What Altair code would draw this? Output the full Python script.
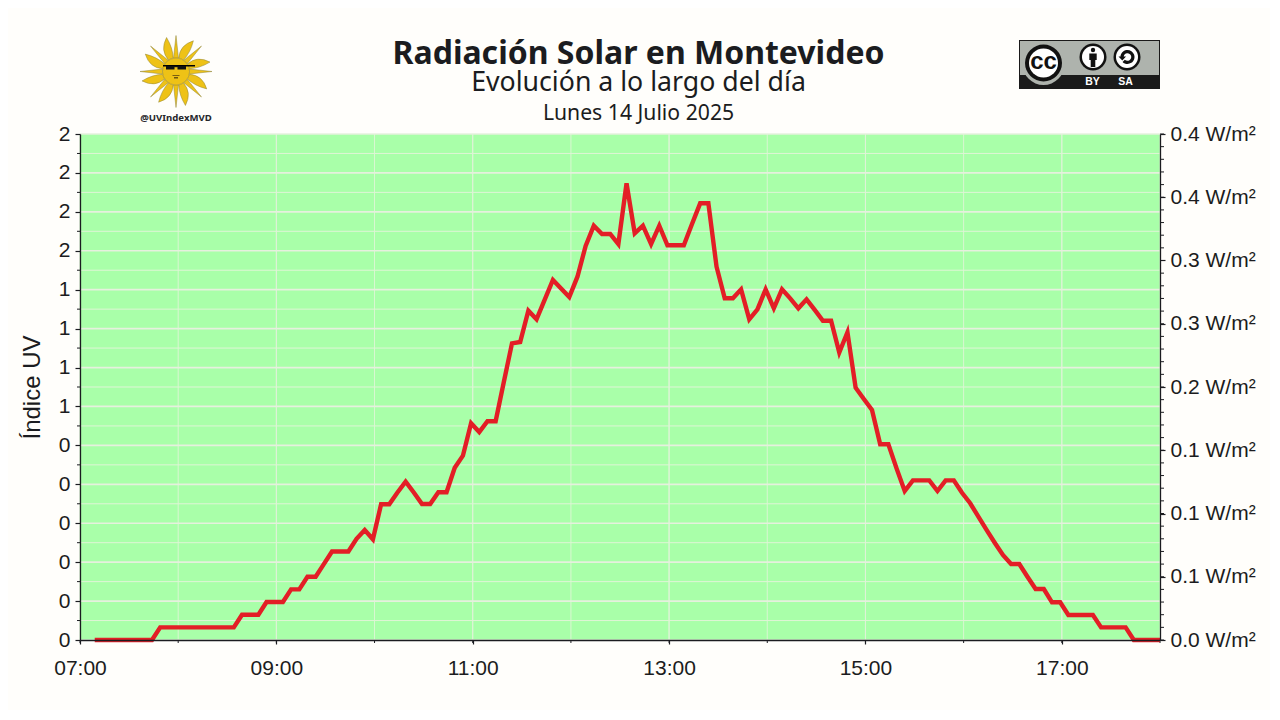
import math
import altair as alt
import pandas as pd

# ---- data -------------------------------------------------------------
minutes_after_seven = [9 + 5 * i for i in range(131)] + [660]
irradiance = [0]*8 + [0.010]*10 + [0.020]*3 + [0.030]*3 + [0.040]*2 + [0.050]*2 + [0.060] + [0.070]*3 + [
    0.080, 0.087, 0.0796, 0.1073, 0.1073, 0.1166, 0.1251, 0.1166, 0.1075, 0.1075, 0.1168, 0.1168,
    0.1362, 0.1457, 0.1713, 0.1644, 0.1729, 0.1729, 0.2040, 0.2345, 0.2356, 0.2603, 0.2535, 0.2691,
    0.2846, 0.2778, 0.2711, 0.2872, 0.3115, 0.3275, 0.3210, 0.3210, 0.3130, 0.3610, 0.3215, 0.3275,
    0.3130, 0.3275, 0.3120, 0.3120, 0.3120, 0.3289, 0.3452, 0.3452, 0.2951, 0.2701, 0.2701, 0.2772,
    0.2535, 0.2614, 0.2772, 0.2622, 0.2772, 0.2701, 0.2622, 0.2693, 0.2609, 0.2524, 0.2524, 0.2273,
    0.2433, 0.1994, 0.1905, 0.1818, 0.1547, 0.1547, 0.1357, 0.1178, 0.1262, 0.1262, 0.1262, 0.1178,
    0.1262, 0.1262, 0.1164, 0.1081, 0.0975, 0.0870, 0.0769, 0.0672, 0.0601, 0.0601, 0.0500, 0.0403,
    0.0403, 0.0298, 0.0298, 0.0198, 0.0198, 0.0198, 0.0198, 0.0100, 0.0100, 0.0100, 0.0100,
] + [0]*5
hours_major = [7, 9, 11, 13, 15, 17]
hours_all = list(range(7, 19))
uv_major = [i / 10 for i in range(14)]
uv_labels = ["0", "0", "0", "0", "0", "0", "1", "1", "1", "1", "2", "2", "2", "2"]
uv_minor = [i / 10 + 0.05 for i in range(13)]
w_major = [i * 0.05 for i in range(9)]
w_labels = ["0.0 W/m²", "0.1 W/m²", "0.1 W/m²", "0.1 W/m²", "0.2 W/m²",
            "0.3 W/m²", "0.3 W/m²", "0.4 W/m²", "0.4 W/m²"]
w_minor = [i * 0.01 for i in range(41)]

PAGE_BG = "#fffefb"
GREEN = "#a9ffa9"
INK = "#1b1c20"
W, H = 1080, 506
OX, OY = 80, 134  # page position of the plot origin


def X(px):
    return alt.value(px - OX)


def Y(py):
    return alt.value(py - OY)


hour_scale = alt.Scale(domain=[7, 18], nice=False, zero=False)
hour_enc = alt.X("h:Q", scale=hour_scale, axis=None)
uv_scale = alt.Scale(domain=[0, 1.3], nice=False, zero=True)
w_scale = alt.Scale(domain=[0, 0.4], nice=False, zero=True)
one = pd.DataFrame({"a": [0]})

left_axis = alt.Axis(
    values=uv_major,
    labelExpr=f"{uv_labels}[round(datum.value*10)]",
    orient="left", title="Índice UV", titleFont="Liberation Sans", titleFontSize=24,
    titleFontWeight="normal", titleColor=INK, titlePadding=14,
    grid=False, tickSize=5, labelPadding=5, zindex=1,
)
right_axis = alt.Axis(
    values=w_major,
    labelExpr=f"{w_labels}[round(datum.value/0.05)]",
    orient="right", title=None,
    grid=False, tickSize=5, labelPadding=5, zindex=1,
)
x_axis = alt.Axis(
    values=hours_major,
    labelExpr="(datum.value<10?'0':'')+datum.value+':00'",
    orient="bottom", title=None, grid=False, tickSize=4, labelPadding=13,
    labelFlush=False, labelBound=False, labelOverlap=False, zindex=1,
)

# ---- grid, ticks, line -------------------------------------------------
df_h_major = pd.DataFrame({"uv": uv_major})
df_h_minor = pd.DataFrame({"uv": uv_minor})
grid_major_y = alt.Chart(df_h_major).mark_rule(color="#e6f0de", strokeWidth=1.7).encode(
    y=alt.Y("uv:Q", scale=uv_scale, axis=left_axis))
grid_minor_y = alt.Chart(df_h_minor).mark_rule(color="#dff5d6", strokeWidth=1).encode(
    y=alt.Y("uv:Q", scale=uv_scale, axis=None))
grid_major_x = alt.Chart(pd.DataFrame({"h": hours_major})).mark_rule(color="#dff2d8", strokeWidth=1).encode(
    x=hour_enc)
grid_minor_x = alt.Chart(pd.DataFrame({"h": hours_all})).mark_rule(color="#dff5d6", strokeWidth=0.9).encode(
    x=hour_enc)

tick_color = "#1b1c20"
ticks_left = alt.Chart(df_h_minor).mark_rule(color=tick_color, strokeWidth=1).encode(
    y=alt.Y("uv:Q", scale=uv_scale, axis=None), x=alt.value(-3), x2=alt.value(0))
ticks_right = alt.Chart(pd.DataFrame({"w": w_minor})).mark_rule(color=tick_color, strokeWidth=1).encode(
    y=alt.Y("w:Q", scale=w_scale, axis=None), x=alt.value(W), x2=alt.value(W + 4))
ticks_x = alt.Chart(pd.DataFrame({"h": hours_all})).mark_rule(color=tick_color, strokeWidth=1).encode(
    x=hour_enc, y=alt.value(H), y2=alt.value(H + 3))

series = pd.DataFrame({"h": [7 + m / 60 for m in minutes_after_seven], "w": irradiance})
line = alt.Chart(series).mark_line(color="#e31e26", strokeWidth=4.4, strokeJoin="miter", clip=False).encode(
    x=alt.X("h:Q", scale=hour_scale, axis=x_axis),
    y=alt.Y("w:Q", scale=w_scale, axis=right_axis),
)

# ---- titles -----------------------------------------------------------


def text(label, px, py, size, font="Noto Sans", weight="normal", color=INK, align="center"):
    return alt.Chart(one).mark_text(
        text=label, font=font, fontSize=size, fontWeight=weight, color=color,
        align=align, baseline="middle",
    ).encode(x=X(px), y=Y(py))


titles = [
    text("Radiación Solar en Montevideo", 638.5, 54, 32, weight="bold"),
    text("Evolución a lo largo del día", 638.5, 83, 26.7),
    text("Lunes 14 Julio 2025", 638.5, 114, 21.2),
]

# ---- logos ------------------------------------------------------------


def sun_path():
    parts = []
    for i in range(16):
        a = math.radians(i * 22.5 - 90)
        hw = math.radians(10.5)
        r0 = 0.38
        bx1, by1 = r0 * math.cos(a - hw), r0 * math.sin(a - hw)
        bx2, by2 = r0 * math.cos(a + hw), r0 * math.sin(a + hw)
        if i % 2 == 0:
            tx, ty = math.cos(a), math.sin(a)
            parts.append(f"M{bx1:.3f},{by1:.3f}L{tx:.3f},{ty:.3f}L{bx2:.3f},{by2:.3f}Z")
        else:
            tipa = a + math.radians(7)
            tx, ty = 0.98 * math.cos(tipa), 0.98 * math.sin(tipa)
            c1a, c2a = a - math.radians(15), a + math.radians(15)
            c1x, c1y = 0.74 * math.cos(c1a), 0.74 * math.sin(c1a)
            c2x, c2y = 0.66 * math.cos(c2a), 0.66 * math.sin(c2a)
            parts.append(f"M{bx1:.3f},{by1:.3f}Q{c1x:.3f},{c1y:.3f} {tx:.3f},{ty:.3f}"
                         f"Q{c2x:.3f},{c2y:.3f} {bx2:.3f},{by2:.3f}Z")
    return "".join(parts)


def dot(px, py, r, fill, stroke=None, sw=0):
    kw = dict(filled=True, fill=fill, opacity=1, size=(2 * r) ** 2, shape="circle")
    if stroke:
        kw.update(stroke=stroke, strokeWidth=sw)
    return alt.Chart(one).mark_point(**kw).encode(x=X(px), y=Y(py))


def box(x0, x1, y0, y1, fill):
    return alt.Chart(one).mark_rect(fill=fill, opacity=1).encode(
        x=X(x0), x2=X(x1), y=Y(y0), y2=Y(y1))


SUN = "#eec216"
SX, SY = 176, 71.5
sun = [
    alt.Chart(one).mark_point(shape=sun_path(), filled=True, fill=SUN, stroke="#8f8438", strokeWidth=0.5,
                              opacity=1, size=72 ** 2).encode(x=X(SX), y=Y(SY)),
    dot(SX, SY, 13.5, SUN, "#9a8a30", 0.5),
    box(163, 195, 65, 66.5, "#000000"),
    box(166, 174.5, 66, 69.5, "#111111"),
    box(177.5, 186, 66, 69.5, "#111111"),
    box(174, 178, 66, 67.2, "#111111"),
    box(174, 178, 77, 78.5, "#6b5410"),
    box(172.5, 179.5, 75, 76, "#7a5f10"),
    text("@UVIndexMVD", 176, 117.5, 9.6, weight="bold", color="#26262a"),
]

BX0, BX1, BY0, BY1 = 1019, 1160, 40, 89
sa_path = ("M-0.55,0.55A0.78,0.78 0 1 0 -0.78,-0.05L-1.0,-0.05L-0.58,0.38L-0.16,-0.05L-0.42,-0.05"
           "A0.42,0.42 0 1 1 -0.3,0.3Z")
badge = [
    box(BX0, BX1, BY0, BY1, "#1a1a1a"),
    box(BX0 + 1, BX1 - 1, BY0 + 1, 75, "#aeb3ad"),
    dot(1043.5, 64, 21, "#aeb3ad"),
    dot(1043.5, 63, 18.5, "#111111"),
    dot(1043.5, 63, 14.5, "#ffffff"),
    text("cc", 1043.5, 61.5, 24, font="Liberation Sans", weight="bold", color="#111111"),
    dot(1093, 57, 13.5, "#111111"),
    dot(1093, 57, 11, "#ffffff"),
    dot(1093, 50, 2.2, "#111111"),
    box(1089.3, 1096.7, 53.5, 60, "#111111"),
    box(1090.7, 1095.3, 60, 67, "#111111"),
    dot(1127, 57, 13.5, "#111111"),
    dot(1127, 57, 11, "#ffffff"),
    alt.Chart(one).mark_point(shape=sa_path, filled=True, fill="#111111", opacity=1, size=18 ** 2).encode(
        x=X(1127.5), y=Y(57)),
    text("BY", 1092.5, 82, 10.5, font="Liberation Sans", weight="bold", color="#ffffff"),
    text("SA", 1125.5, 82, 10.5, font="Liberation Sans", weight="bold", color="#ffffff"),
]

chart = (
    alt.layer(
        grid_minor_x, grid_major_x, grid_minor_y, grid_major_y,
        ticks_left, ticks_right, ticks_x, line,
        *titles, *sun, *badge,
    )
    .resolve_scale(y="independent")
    .resolve_axis(x="independent", y="independent")
    .properties(
        width=W, height=H,
        autosize=alt.AutoSizeParams(type="none"),
        padding={"left": OX - 8, "top": OY - 8, "right": 110, "bottom": 70},
        background=PAGE_BG,
    )
    .configure_view(fill=GREEN, stroke=None)
    .configure_axis(
        domainColor=tick_color, tickColor=tick_color, labelColor=INK,
        labelFont="Liberation Sans", labelFontSize=21, domainWidth=1.3, tickWidth=1.2,
    )
)

chart.save("out.html", embed_options={"renderer": "svg", "actions": False})
